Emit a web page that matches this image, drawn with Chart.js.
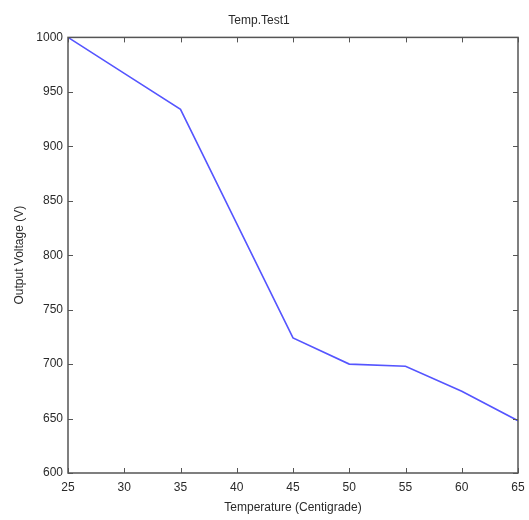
<!DOCTYPE html>
<html>
<head>
<meta charset="utf-8">
<script src="https://cdn.jsdelivr.net/npm/chart.js@4.4.1/dist/chart.umd.min.js"></script>
<style>
  html, body { margin: 0; padding: 0; background: #fff; }
  #wrap { width: 529px; height: 520px; }
</style>
</head>
<body>
<div id="wrap"><canvas id="c" width="529" height="520"></canvas></div>
<script>
const temperatures = [25, 30, 35, 40, 45, 50, 55, 60, 65];
const voltages = [1000, 967, 934, 829, 724, 700, 698, 675, 648];
const xTicks = [25, 30, 35, 40, 45, 50, 55, 60, 65];
const yTicks = [600, 650, 700, 750, 800, 850, 900, 950, 1000];

const FONT = "'Liberation Sans', Arial, sans-serif";
const TEXT = '#2a2a2a';
const AXIS = '#555';

const boxPlugin = {
  id: 'matlabBox',
  afterDatasetsDraw(chart) {
    const { ctx, chartArea: a, scales } = chart;
    ctx.save();
    ctx.strokeStyle = AXIS;
    ctx.lineWidth = 1.5;
    ctx.strokeRect(a.left, a.top, a.right - a.left, a.bottom - a.top);
    const L = 5;
    ctx.lineWidth = 1;
    ctx.beginPath();
    xTicks.forEach(v => {
      const x = Math.round(scales.x.getPixelForValue(v)) + 0.5;
      ctx.moveTo(x, a.bottom); ctx.lineTo(x, a.bottom - L);
      ctx.moveTo(x, a.top); ctx.lineTo(x, a.top + L);
    });
    yTicks.forEach(v => {
      const y = Math.round(scales.y.getPixelForValue(v)) + 0.5;
      ctx.moveTo(a.left, y); ctx.lineTo(a.left + L, y);
      ctx.moveTo(a.right, y); ctx.lineTo(a.right - L, y);
    });
    ctx.stroke();
    ctx.restore();
  }
};

new Chart(document.getElementById('c'), {
  type: 'line',
  data: {
    datasets: [{
      data: temperatures.map((t, i) => ({ x: t, y: voltages[i] })),
      borderColor: 'rgb(85,85,255)',
      borderWidth: 1.6,
      pointRadius: 0,
      tension: 0,
      fill: false
    }]
  },
  options: {
    responsive: false,
    animation: false,
    devicePixelRatio: 1,
    layout: { padding: { top: 0, right: 11, left: 0, bottom: 0 } },
    plugins: {
      legend: { display: false },
      tooltip: { enabled: false },
      title: {
        display: true,
        text: 'Temp.Test1',
        color: TEXT,
        font: { family: FONT, size: 12, weight: 'normal' },
        padding: { top: 13, bottom: 10 }
      }
    },
    scales: {
      x: {
        type: 'linear',
        min: 25, max: 65,
        afterBuildTicks: s => { s.ticks = xTicks.map(v => ({ value: v })); },
        afterFit: s => { s.height = 47; s.paddingRight = 0; s.paddingLeft = 0; },
        grid: { display: false, drawTicks: false },
        border: { display: false },
        ticks: { color: TEXT, font: { family: FONT, size: 12 }, padding: 7, maxRotation: 0,
                 callback: v => String(v) },
        title: { display: true, text: 'Temperature (Centigrade)', color: TEXT,
                 font: { family: FONT, size: 12 }, padding: { top: 2, bottom: 5 } }
      },
      y: {
        type: 'linear',
        min: 600, max: 1000,
        afterBuildTicks: s => { s.ticks = yTicks.map(v => ({ value: v })); },
        afterFit: s => { s.width = 68; },
        grid: { display: false, drawTicks: false },
        border: { display: false },
        ticks: { color: TEXT, font: { family: FONT, size: 12 }, padding: 5,
                 callback: v => String(v) },
        title: { display: true, text: 'Output Voltage (V)', color: TEXT,
                 font: { family: FONT, size: 12 }, padding: { top: 12, bottom: 4 } }
      }
    }
  },
  plugins: [boxPlugin]
});
</script>
</body>
</html>
